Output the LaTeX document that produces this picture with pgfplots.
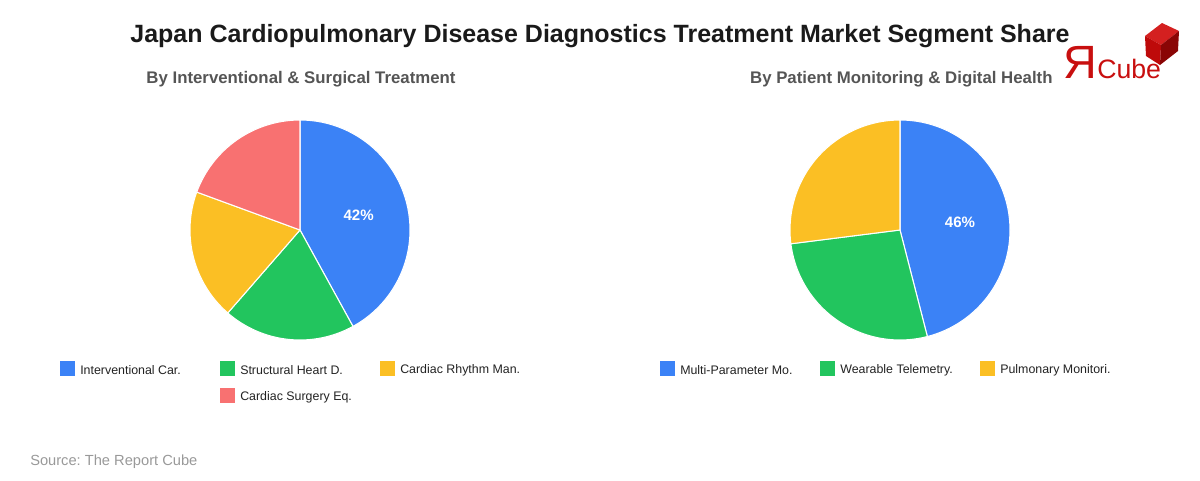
\documentclass[border=0pt]{standalone}
\usepackage{pgfplots}
\usepackage{pgfplotstable}
\pgfplotsset{compat=1.18}
\usepackage{fontspec}
\setmainfont{Liberation Sans}
\frenchspacing

\definecolor{slice0}{HTML}{3B82F6}
\definecolor{slice1}{HTML}{22C55E}
\definecolor{slice2}{HTML}{FBBF24}
\definecolor{slice3}{HTML}{F87171}
\definecolor{titlecol}{HTML}{1A1A1A}
\definecolor{subcol}{HTML}{555555}
\definecolor{legcol}{HTML}{222222}
\definecolor{srccol}{HTML}{999999}
\definecolor{logored}{HTML}{C80F0F}
\definecolor{cubetop}{HTML}{D42020}
\definecolor{cubeleft}{HTML}{BE0A0A}
\definecolor{cuberight}{HTML}{8A0505}

% segment shares (percent)
\pgfplotstableread{
share
42
19.4
19.2
19.4
}\treatdata

\pgfplotstableread{
share
46
27
27
}\monitordata

% draws one pie from a table, slices clockwise from 12 o'clock
\newcommand{\drawpie}[2]{%
  \pgfplotstablegetrowsof{#1}%
  \pgfmathtruncatemacro\lastrow{\pgfplotsretval-1}%
  \gdef\cum{0}%
  \pgfplotsinvokeforeach{0,...,\lastrow}{%
    \pgfplotstablegetelem{##1}{share}\of{#1}%
    \let\val\pgfplotsretval
    \pgfmathsetmacro\angA{90-3.6*\cum}%
    \pgfmathsetmacro\angB{90-3.6*(\cum+\val)}%
    \pgfmathsetmacro\ax{cos(\angA)}%
    \pgfmathsetmacro\ay{sin(\angA)}%
    \edef\doslice{\noexpand\fill[slice##1, draw=white, line width=0.8pt, line join=round]
      (axis cs:0,0) -- (axis cs:\ax,\ay) arc[start angle=\angA, end angle=\angB, radius=82.5pt] -- cycle;}%
    \doslice
    \ifnum##1=0
      \pgfmathsetmacro\mid{90-3.6*(\cum+\val/2)}%
      \pgfmathsetmacro\lx{#2*cos(\mid)}%
      \pgfmathsetmacro\ly{#2*sin(\mid)}%
      \pgfmathtruncatemacro\pct{round(\val)}%
      \edef\dolabel{\noexpand\node[text=white, font=\noexpand\bfseries\noexpand\fontsize{11.3pt}{13pt}\noexpand\selectfont]
        at (axis cs:\lx,\ly) {\pct\noexpand\%};}%
      \dolabel
    \fi
    \pgfmathsetmacro\newcum{\cum+\val}%
    \xdef\cum{\newcum}%
  }%
}

\pgfplotsset{pieaxis/.style={
  hide axis, clip=false,
  x=82.5pt, y=82.5pt,
  xmin=-1, xmax=1, ymin=-1, ymax=1,
  anchor=center,
}}

% legend entry: square + label, position given in pixel-like units (top-left origin)
\newcommand{\legentry}[4]{%
  \fill[#1] ({#2*0.75pt},{(480-#3-7.5)*0.75pt}) rectangle ++(11.25pt,11.25pt);
  \node[anchor=west, inner sep=0pt, text=legcol, font=\fontsize{9.3pt}{11pt}\selectfont]
    at ({(#2+20)*0.75pt},{(480-#3-1.5)*0.75pt}) {#4};
}

\begin{document}
\begin{tikzpicture}
\path[use as bounding box] (0,0) rectangle (900pt,360pt);

% title and subtitles
\node[text=titlecol, font=\bfseries\fontsize{18.75pt}{22pt}\selectfont] at (450pt,333pt)
  {Japan Cardiopulmonary Disease Diagnostics Treatment Market Segment Share};
\node[text=subcol, font=\bfseries\fontsize{12.6pt}{15pt}\selectfont] at (225.75pt,300.75pt)
  {By Interventional \& Surgical Treatment};
\node[text=subcol, font=\bfseries\fontsize{12.6pt}{15pt}\selectfont] at (676pt,300.75pt)
  {By Patient Monitoring \& Digital Health};

% pies
\begin{axis}[pieaxis, at={(225pt,187.5pt)}]
  \drawpie{\treatdata}{0.55}
\end{axis}
\begin{axis}[pieaxis, at={(675pt,187.5pt)}]
  \drawpie{\monitordata}{0.55}
\end{axis}

% legends
\legentry{slice0}{60}{368.5}{Interventional Car.}
\legentry{slice1}{220}{368.5}{Structural Heart D.}
\legentry{slice2}{380}{368.5}{Cardiac Rhythm Man.}
\legentry{slice3}{220}{395.5}{Cardiac Surgery Eq.}
\legentry{slice0}{660}{368.5}{Multi-Parameter Mo.}
\legentry{slice1}{820}{368.5}{Wearable Telemetry.}
\legentry{slice2}{980}{368.5}{Pulmonary Monitori.}

% source
\node[anchor=west, inner sep=0pt, text=srccol, font=\fontsize{11pt}{13pt}\selectfont]
  at (22.5pt,13.5pt) {Source: The Report Cube};

% logo
\node[anchor=base west, inner sep=0pt, text=logored, font=\fontsize{35pt}{38pt}\selectfont]
  at ({1063*0.75pt},{(480-78)*0.75pt}) {Я};
\node[anchor=base west, inner sep=0pt, text=logored, font=\fontsize{20pt}{24pt}\selectfont]
  at ({1097*0.75pt},{(480-78)*0.75pt}) {Cube};
\begin{scope}[x=0.75pt, y=-0.75pt, shift={(0,-480)}]
  \fill[cubetop] (1145,36) -- (1162,23) -- (1179,31) -- (1161,45) -- cycle;
  \fill[cubeleft] (1145,36) -- (1161,45) -- (1160,65) -- (1146,56) -- cycle;
  \fill[cuberight] (1161,45) -- (1179,31) -- (1178,51) -- (1160,65) -- cycle;
\end{scope}
\end{tikzpicture}
\end{document}
